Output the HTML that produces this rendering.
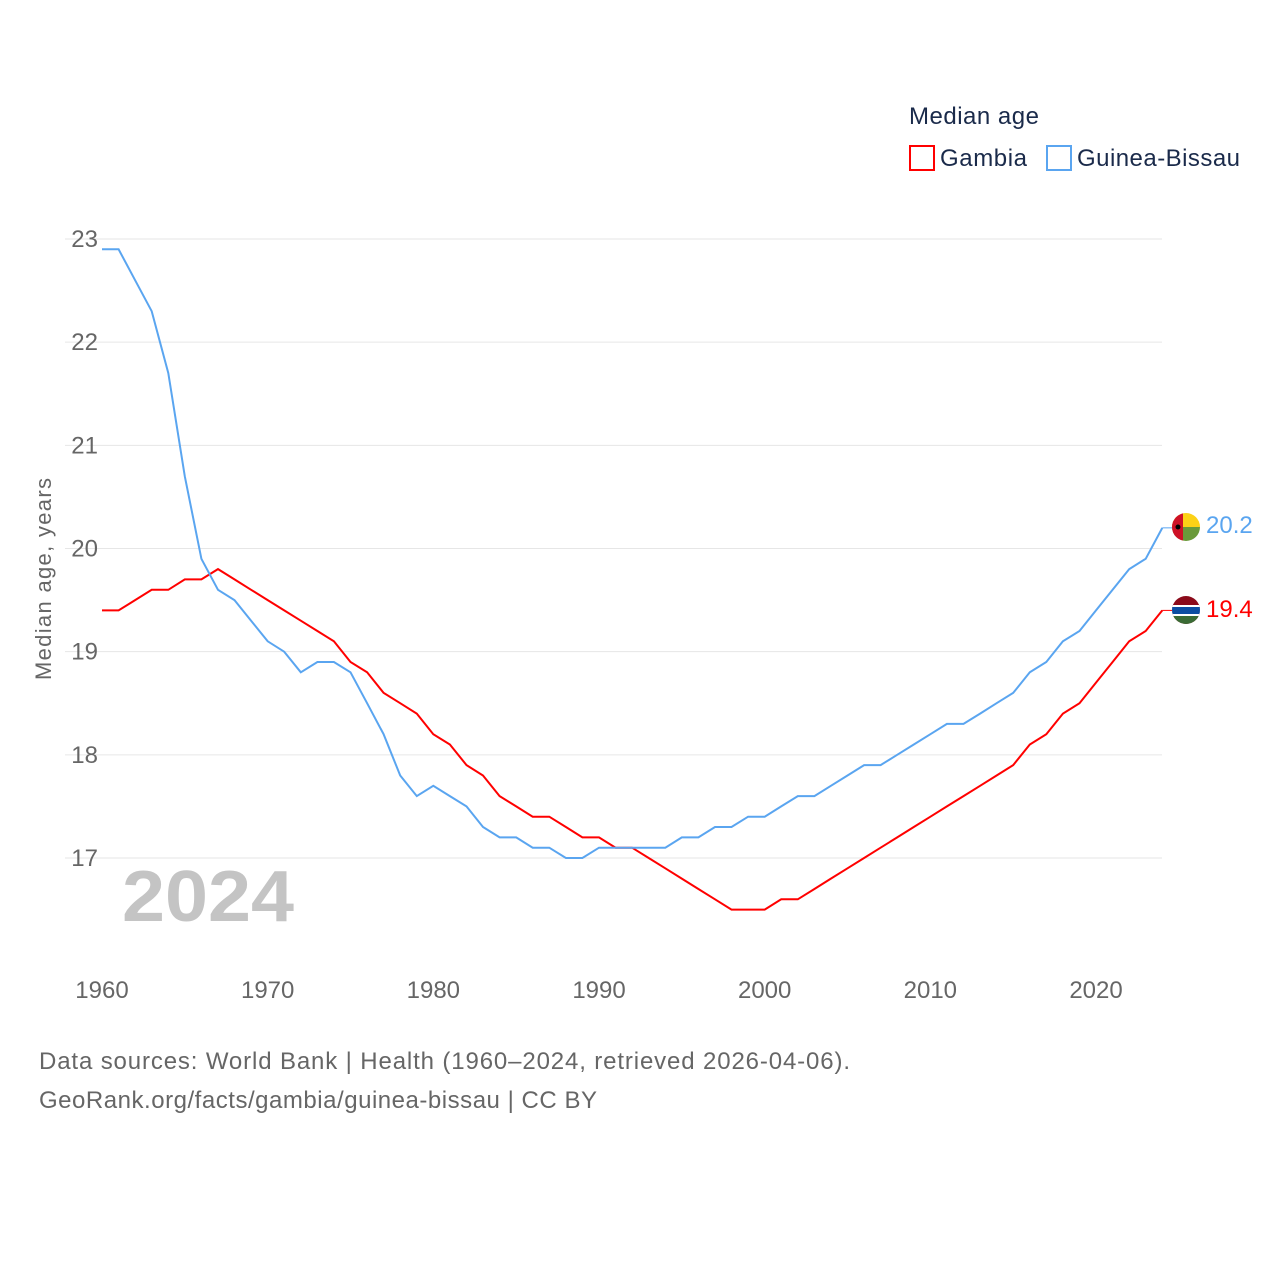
<!DOCTYPE html>
<html><head><meta charset="utf-8"><style>
html,body{margin:0;padding:0;background:#fff;}
body{width:1280px;height:1280px;position:relative;font-family:"Liberation Sans",sans-serif;overflow:hidden;}
</style></head><body>
<svg id="chart" width="1280" height="1280" xmlns="http://www.w3.org/2000/svg" style="position:absolute;left:0;top:0;font-family:'Liberation Sans',sans-serif">
<text x="909" y="124" font-size="24" fill="#1a2a4a" textLength="130">Median age</text>
<g><rect x="910" y="146" width="24" height="24" fill="none" stroke="#ff0000" stroke-width="2"/><text x="940" y="166" font-size="24" fill="#1a2a4a" textLength="87">Gambia</text></g>
<g><rect x="1047" y="146" width="24" height="24" fill="none" stroke="#5aa5f0" stroke-width="2"/><text x="1077" y="166" font-size="24" fill="#1a2a4a" textLength="163">Guinea-Bissau</text></g>
<g id="grid"></g>
<text x="122" y="921" font-size="72" font-weight="bold" fill="#c4c4c4" textLength="172" lengthAdjust="spacingAndGlyphs">2024</text>
<text transform="translate(51,579) rotate(-90)" font-size="22" fill="#666" text-anchor="middle" textLength="202">Median age, years</text>
<g id="series"></g>
<g><clipPath id="c1"><circle cx="1186" cy="527" r="14"/></clipPath><g clip-path="url(#c1)"><rect x="1172" y="513" width="28" height="14" fill="#fcd116"/><rect x="1172" y="527" width="28" height="14" fill="#6a9a3a"/><rect x="1172" y="513" width="11" height="28" fill="#ce1126"/><circle cx="1178" cy="527" r="2.5" fill="#000"/></g></g>
<g><clipPath id="c2"><circle cx="1186" cy="610" r="14"/></clipPath><g clip-path="url(#c2)"><rect x="1172" y="596" width="28" height="28" fill="#8b0a1a"/><rect x="1172" y="605" width="28" height="11" fill="#fff"/><rect x="1172" y="607" width="28" height="7" fill="#0c4da2"/><rect x="1172" y="616" width="28" height="8" fill="#3a6b35"/></g></g>
<text x="1206" y="533" font-size="24" fill="#5aa5f0">20.2</text>
<text x="1206" y="617" font-size="24" fill="#ff0000">19.4</text>
<text x="39" y="1069" font-size="24" fill="#666" textLength="811">Data sources: World Bank | Health (1960–2024, retrieved 2026-04-06).</text>
<text x="39" y="1108" font-size="24" fill="#666" textLength="558">GeoRank.org/facts/gambia/guinea-bissau | CC BY</text>
</svg>
<script>
const startYear = 1960;
const yTicks = [17,18,19,20,21,22,23];
const xTicks = [1960,1970,1980,1990,2000,2010,2020];
const gambia = [19.4,19.4,19.5,19.6,19.6,19.7,19.7,19.8,19.7,19.6,19.5,19.4,19.3,19.2,19.1,18.9,18.8,18.6,18.5,18.4,18.2,18.1,17.9,17.8,17.6,17.5,17.4,17.4,17.3,17.2,17.2,17.1,17.1,17.0,16.9,16.8,16.7,16.6,16.5,16.5,16.5,16.6,16.6,16.7,16.8,16.9,17.0,17.1,17.2,17.3,17.4,17.5,17.6,17.7,17.8,17.9,18.1,18.2,18.4,18.5,18.7,18.9,19.1,19.2,19.4];
const guineaBissau = [22.9,22.9,22.6,22.3,21.7,20.7,19.9,19.6,19.5,19.3,19.1,19.0,18.8,18.9,18.9,18.8,18.5,18.2,17.8,17.6,17.7,17.6,17.5,17.3,17.2,17.2,17.1,17.1,17.0,17.0,17.1,17.1,17.1,17.1,17.1,17.2,17.2,17.3,17.3,17.4,17.4,17.5,17.6,17.6,17.7,17.8,17.9,17.9,18.0,18.1,18.2,18.3,18.3,18.4,18.5,18.6,18.8,18.9,19.1,19.2,19.4,19.6,19.8,19.9,20.2];
const NS="http://www.w3.org/2000/svg";
const x = yr => 102 + (yr-1960)*16.567;
const y = v => 858 - (v-17)*103.17;
const grid=document.getElementById('grid');
yTicks.forEach(t=>{
  const l=document.createElementNS(NS,'line');
  l.setAttribute('x1',65);l.setAttribute('x2',1162);l.setAttribute('y1',y(t));l.setAttribute('y2',y(t));
  l.setAttribute('stroke','#e6e6e6');l.setAttribute('stroke-width',1);
  
  
  grid.appendChild(l);
  const tx=document.createElementNS(NS,'text');
  tx.setAttribute('x',98);tx.setAttribute('y',y(t)+8);tx.setAttribute('text-anchor','end');
  tx.setAttribute('font-size',24);tx.setAttribute('fill','#666');tx.textContent=t;
  
  
  grid.appendChild(tx);
});
xTicks.forEach(t=>{
  const tx=document.createElementNS(NS,'text');
  tx.setAttribute('x',x(t));tx.setAttribute('y',998);tx.setAttribute('text-anchor','middle');
  tx.setAttribute('font-size',24);tx.setAttribute('fill','#666');tx.textContent=t;
  
  
  grid.appendChild(tx);
});
const ser=document.getElementById('series');
function draw(vals,color,name){
  const d=vals.map((v,i)=>(i?'L':'M')+x(startYear+i).toFixed(1)+','+y(v).toFixed(1)).join(' ');
  const p=document.createElementNS(NS,'path');
  p.setAttribute('d',d);p.setAttribute('fill','none');p.setAttribute('stroke',color);p.setAttribute('stroke-width',2);
  
  
  ser.appendChild(p);
  const last=vals[vals.length-1];
  const c=document.createElementNS(NS,'line');
  c.setAttribute('x1',x(startYear+vals.length-1));c.setAttribute('x2',1172);c.setAttribute('y1',y(last));c.setAttribute('y2',y(last));
  c.setAttribute('stroke',color);c.setAttribute('stroke-width',1);
  
  
  ser.appendChild(c);
}
draw(gambia,'#ff0000','gambia-line');
draw(guineaBissau,'#5aa5f0','guinea-bissau-line');
</script>
</body></html>
